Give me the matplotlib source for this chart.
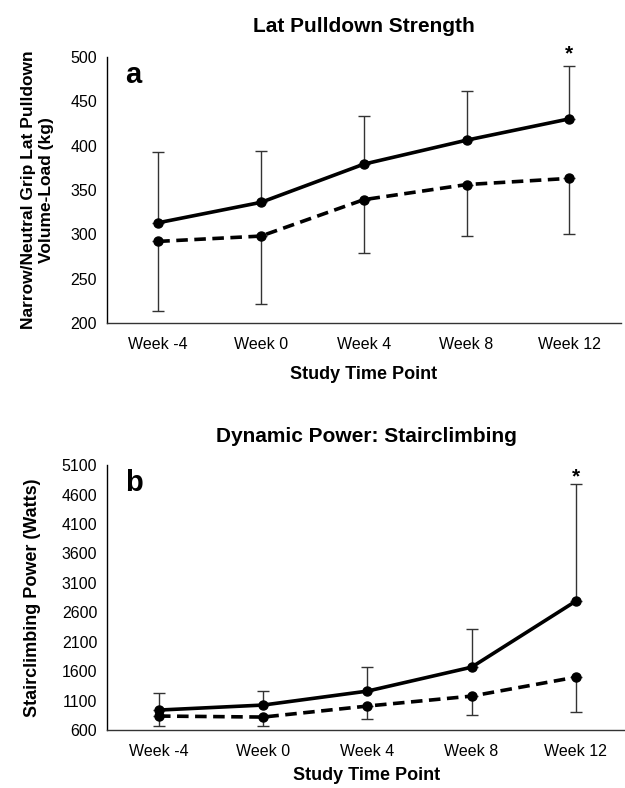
import numpy as np
import matplotlib as mpl
import matplotlib.pyplot as plt

weeks = ["Week -4", "Week 0", "Week 4", "Week 8", "Week 12"]

# panel a: lat pulldown volume-load (kg)
lat_solid = [313, 336, 379, 406, 430]
lat_solid_err_up = [80, 58, 54, 55, 60]
lat_dashed = [292, 298, 339, 356, 363]
lat_dashed_err_down = [78, 77, 60, 58, 63]

# panel b: stairclimbing power (Watts)
stair_solid = [939, 1024, 1261, 1668, 2790]
stair_solid_err_up = [288, 237, 407, 644, 1996]
stair_dashed = [837, 820, 1007, 1176, 1498]
stair_dashed_err_down = [169, 152, 221, 322, 593]

mpl.rcParams.update({
    "font.family": ["Liberation Sans Narrow", "Liberation Sans", "DejaVu Sans"],
    "axes.linewidth": 1.0,
})

BOLD = ["Liberation Sans", "DejaVu Sans"]


def draw_panel(ax, solid, solid_up, dashed, dashed_down, yticks, letter, title,
               ylabel, star_y, label_fs, label_pad, title_pad, xlabel_pad):
    x = np.arange(len(weeks))
    err_kw = dict(fmt="none", ecolor="#333333", elinewidth=1.0, capsize=4, capthick=1.0)
    ax.errorbar(x, solid, yerr=[np.zeros(len(x)), solid_up], **err_kw)
    ax.errorbar(x, dashed, yerr=[dashed_down, np.zeros(len(x))], **err_kw)
    ax.plot(x, solid, color="black", linewidth=2.6, marker="o", markersize=6.5,
            solid_capstyle="round")
    ax.plot(x, dashed, color="black", linewidth=2.6, linestyle=(0, (3.2, 1.8)),
            marker="o", markersize=6.5)

    ax.set_ylim(yticks[0], yticks[-1])
    ax.set_yticks(yticks)
    ax.set_xticks(x)
    ax.set_xticklabels(weeks)
    ax.tick_params(length=0, labelsize=11.5, pad=7)
    ax.tick_params(axis="x", pad=10)
    for s in ("top", "right"):
        ax.spines[s].set_visible(False)
    ax.spines["bottom"].set_color("#333333")

    ax.text(0.035, 0.985, letter, transform=ax.transAxes, fontsize=21,
            fontweight="bold", family=BOLD, va="top", ha="left")
    ax.text(x[-1], star_y, "*", fontsize=15, fontweight="bold", family=BOLD,
            ha="center", va="center")
    ax.set_title(title, fontsize=15, fontweight="bold", family=BOLD, pad=title_pad)
    ax.set_xlabel("Study Time Point", fontsize=13, fontweight="bold", family=BOLD,
                  labelpad=xlabel_pad)
    ax.set_ylabel(ylabel, fontsize=label_fs, fontweight="bold", family=BOLD,
                  labelpad=label_pad, linespacing=1.25)


fig = plt.figure(figsize=(6.25, 7.88), dpi=100)
ax1 = fig.add_axes([0.171, 0.590, 0.822, 0.338])
ax2 = fig.add_axes([0.171, 0.0736, 0.832, 0.336])

draw_panel(ax1, lat_solid, lat_solid_err_up, lat_dashed, lat_dashed_err_down,
           np.arange(200, 501, 50), "a", "Lat Pulldown Strength",
           "Narrow/Neutral Grip Lat Pulldown\nVolume-Load (kg)", 503, 12.5, 12, 18, 10)
ax1.set_xlim(-0.5, 4.5)

draw_panel(ax2, stair_solid, stair_solid_err_up, stair_dashed, stair_dashed_err_down,
           np.arange(600, 5101, 500), "b", "Dynamic Power: Stairclimbing",
           "Stairclimbing Power (Watts)", 4900, 13, 15, 17, 6)
ax2.set_xlim(-0.5, 4.49)

fig.savefig("out.png", dpi=100)
